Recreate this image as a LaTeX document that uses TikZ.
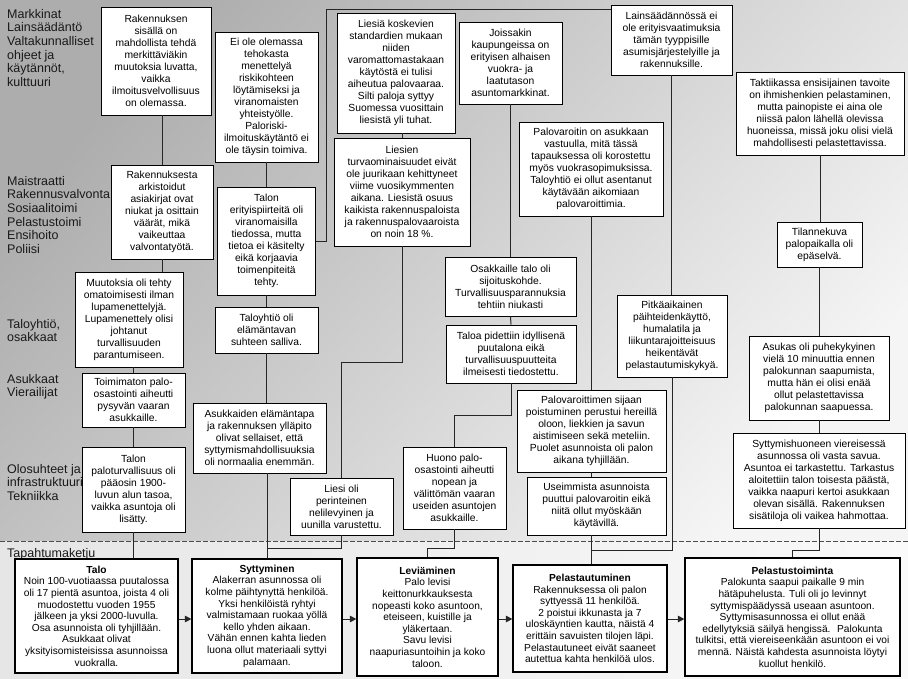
\documentclass[tikz,border=0pt]{standalone}
\usepackage{fontspec}
\setmainfont{Liberation Sans}
\usetikzlibrary{arrows.meta}
\begin{document}
\begin{tikzpicture}[x=1pt,y=-1pt,
  box/.style={draw=black, line width=0.9pt, fill=white, align=center, inner sep=2pt,
    font=\fontsize{10.3}{12}\selectfont},
  ebox/.style={box, line width=1.2pt, font=\fontsize{10.2}{11.6}\selectfont},
  conn/.style={draw=black!85, line width=1pt},
  arr/.style={conn, -{Triangle[length=6.5pt,width=6.5pt]}},
  lab/.style={anchor=north west, align=left, inner sep=0pt, text=black!90,
    font=\fontsize{12.5}{13.6}\selectfont},
  sep/.style={draw=black!70, line width=0.9pt, dash pattern=on 4.5pt off 2.5pt}
]
\useasboundingbox (0,0) rectangle (908,678);
% background
\shade[top color=black!32, bottom color=black!4, shading angle=50] (0,0) rectangle (908,541);
\shade[left color=black!10, right color=black!2] (0,541) rectangle (908,678);
\coordinate (dl) at (0,541);
\coordinate (dr) at (908,541);
\draw[sep] (dl) -- (dr);

% row labels
\node[lab] (L1) at (7,9) {Markkinat\\Lainsäädäntö\\Valtakunnalliset\\ohjeet ja\\käytännöt,\\kulttuuri};
\node[lab] (L2) at (7,176) {Maistraatti\\Rakennusvalvonta\\Sosiaalitoimi\\Pelastustoimi\\Ensihoito\\Poliisi};
\node[lab] (L3) at (7,319) {Taloyhtiö,\\osakkaat};
\node[lab] (L4) at (7,374) {Asukkaat\\Vierailijat};
\node[lab] (L5) at (7,464) {Olosuhteet ja\\infrastruktuuri\\Tekniikka};
\node[lab] (L6) at (7,548) {Tapahtumaketju};

% helper coordinates
\coordinate (y362) at (0,362);
\coordinate (y415) at (0,415);
\coordinate (y548) at (0,548);
\coordinate (y550) at (0,550);
\coordinate (y619) at (0,619);
\coordinate (tL) at (326,9);
\coordinate (jS) at (267,548);
\coordinate (jP) at (591.5,550);

% upper boxes
\node[box, minimum width=110pt, minimum height=108pt] (A1) at (156,61)
  {Rakennuksen\\sisällä on\\mahdollista tehdä\\merkittäviäkin\\muutoksia luvatta,\\vaikka\\ilmoitusvelvollisuus\\on olemassa.};
\node[box, minimum width=102pt, minimum height=94pt] (A2) at (162,212)
  {Rakennuksesta\\arkistoidut\\asiakirjat ovat\\niukat ja osittain\\väärät, mikä\\vaikeuttaa\\valvontatyötä.};
\node[box, minimum width=108pt, minimum height=95pt] (A3) at (129,319.5)
  {Muutoksia oli tehty\\omatoimisesti ilman\\lupamenettelyjä.\\Lupamenettely olisi\\johtanut\\turvallisuuden\\parantumiseen.};
\node[box, minimum width=103pt, minimum height=54pt] (A4) at (133.5,400)
  {Toimimaton palo-\\osastointi aiheutti\\pysyvän vaaran\\asukkaille.};
\node[box, minimum width=103pt, minimum height=85pt] (A5) at (133.5,489.5)
  {Talon\\paloturvallisuus oli\\pääosin 1900-\\luvun alun tasoa,\\vaikka asuntoja oli\\lisätty.};

\node[box, minimum width=103pt, minimum height=130pt] (B1) at (266.5,97)
  {Ei ole olemassa\\tehokasta\\menettelyä\\riskikohteen\\löytämiseksi ja\\viranomaisten\\yhteistyölle.\\Paloriski-\\ilmoituskäytäntö ei\\ole täysin toimiva.};
\node[box, minimum width=98pt, minimum height=108pt] (B2) at (266.5,241)
  {Talon\\erityispiirteitä oli\\viranomaisilla\\tiedossa, mutta\\tietoa ei käsitelty\\eikä korjaavia\\toimenpiteitä\\tehty.};
\node[box, minimum width=103pt, minimum height=46pt] (B3) at (266.5,330)
  {Taloyhtiö oli\\elämäntavan\\suhteen salliva.};
\node[box, minimum width=133pt, minimum height=70pt] (B4) at (259.5,438)
  {Asukkaiden elämäntapa\\ja rakennuksen ylläpito\\olivat sellaiset, että\\syttymismahdollisuuksia\\oli normaalia enemmän.};
\node[box, minimum width=103pt, minimum height=57pt] (Liesi) at (341.5,506.5)
  {Liesi oli\\perinteinen\\nelilevyinen ja\\uunilla varustettu.};

\node[box, minimum width=118pt, minimum height=120pt] (LiesiaK) at (396,73)
  {Liesiä koskevien\\standardien mukaan\\niiden\\varomattomastakaan\\käytöstä ei tulisi\\aiheutua palovaaraa.\\Silti paloja syttyy\\Suomessa vuosittain\\liesistä yli tuhat.};
\node[box, minimum width=136pt, minimum height=108pt] (Liesien) at (402,192)
  {Liesien\\turvaominaisuudet eivät\\ole juurikaan kehittyneet\\viime vuosikymmenten\\aikana. Liesistä osuus\\kaikista rakennuspaloista\\ja rakennuspalovaaroista\\on noin 18~\%.};

\node[box, minimum width=103pt, minimum height=82pt] (Joiss) at (510.5,63)
  {Joissakin\\kaupungeissa on\\erityisen alhaisen\\vuokra- ja\\laatutason\\asuntomarkkinat.};
\node[box, minimum width=131pt, minimum height=59pt] (Osak) at (510.5,286.5)
  {Osakkaille talo oli\\sijoituskohde.\\Turvallisuusparannuksia\\tehtiin niukasti};
\node[box, minimum width=130pt, minimum height=58pt] (Taloa) at (511,354)
  {Taloa pidettiin idyllisenä\\puutalona eikä\\turvallisuuspuutteita\\ilmeisesti tiedostettu.};
\node[box, minimum width=103pt, minimum height=82pt] (Huono) at (454.5,488)
  {Huono palo-\\osastointi aiheutti\\nopean ja\\välittömän vaaran\\useiden asuntojen\\asukkaille.};

\node[box, minimum width=144pt, minimum height=94pt] (Palov) at (591,169)
  {Palovaroitin on asukkaan\\vastuulla, mitä tässä\\tapauksessa oli korostettu\\myös vuokrasopimuksissa.\\Taloyhtiö ei ollut asentanut\\käytävään aikomiaan\\palovaroittimia.};
\node[box, minimum width=149pt, minimum height=82pt] (PSij) at (591.5,431)
  {Palovaroittimen sijaan\\poistuminen perustui hereillä\\oloon, liekkien ja savun\\aistimiseen sekä meteliin.\\Puolet asunnoista oli palon\\aikana tyhjillään.};
\node[box, minimum width=139pt, minimum height=58pt] (Useim) at (596.5,506)
  {Useimmista asunnoista\\puuttui palovaroitin eikä\\niitä ollut myöskään\\käytävillä.};

\node[box, minimum width=121pt, minimum height=70pt] (Lain) at (671.5,40)
  {Lainsäädännössä ei\\ole erityisvaatimuksia\\tämän tyyppisille\\asumisjärjestelyille ja\\rakennuksille.};
\node[box, minimum width=110pt, minimum height=82pt] (Pitk) at (672,336)
  {Pitkäaikainen\\päihteidenkäyttö,\\humalatila ja\\liikuntarajoitteisuus\\heikentävät\\pelastautumiskykyä.};

\node[box, minimum width=168pt, minimum height=83pt] (Takt) at (820,113.5)
  {Taktiikassa ensisijainen tavoite\\on ihmishenkien pelastaminen,\\mutta painopiste ei aina ole\\niissä palon lähellä olevissa\\huoneissa, missä joku olisi vielä\\mahdollisesti pelastettavissa.};
\node[box, minimum width=85pt, minimum height=45pt] (Tilan) at (819.5,244.5)
  {Tilannekuva\\palopaikalla oli\\epäselvä.};
\node[box, minimum width=140pt, minimum height=84pt] (Asukas) at (819,378)
  {Asukas oli puhekykyinen\\vielä 10 minuuttia ennen\\palokunnan saapumista,\\mutta hän ei olisi enää\\ollut pelastettavissa\\palokunnan saapuessa.};
\node[box, minimum width=172pt, minimum height=95pt] (Sytth) at (819,480.5)
  {Syttymishuoneen viereisessä\\asunnossa oli vasta savua.\\Asuntoa ei tarkastettu. Tarkastus\\aloitettiin talon toisesta päästä,\\vaikka naapuri kertoi asukkaan\\olevan sisällä. Rakennuksen\\sisätiloja oli vaikea hahmottaa.};

% event chain boxes
\node[ebox, minimum width=163pt, minimum height=114pt] (Talo) at (96.5,616)
  {\textbf{Talo}\\Noin 100-vuotiaassa puutalossa\\oli 17 pientä asuntoa, joista 4 oli\\muodostettu vuoden 1955\\jälkeen ja yksi 2000-luvulla.\\Osa asunnoista oli tyhjillään.\\Asukkaat olivat\\yksityisomisteisissa asunnoissa\\vuokralla.};
\node[ebox, minimum width=150pt, minimum height=114pt] (Sytt) at (267,616)
  {\textbf{Syttyminen}\\Alakerran asunnossa oli\\kolme päihtynyttä henkilöä.\\Yksi henkilöistä ryhtyi\\valmistamaan ruokaa yöllä\\kello yhden aikaan.\\Vähän ennen kahta lieden\\luona ollut materiaali syttyi\\palamaan.};
\node[ebox, minimum width=141pt, minimum height=118pt] (Lev) at (427.5,617)
  {\textbf{Leviäminen}\\Palo levisi\\keittonurkkauksesta\\nopeasti koko asuntoon,\\eteiseen, kuistille ja\\yläkertaan.\\Savu levisi\\naapuriasuntoihin ja koko\\taloon.};
\node[ebox, minimum width=154pt, minimum height=107pt] (Pelau) at (590,618.5)
  {\textbf{Pelastautuminen}\\Rakennuksessa oli palon\\syttyessä 11 henkilöä.\\2 poistui ikkunasta ja 7\\uloskäyntien kautta, näistä 4\\erittäin savuisten tilojen läpi.\\Pelastautuneet eivät saaneet\\autettua kahta henkilöä ulos.};
\node[ebox, minimum width=215pt, minimum height=118pt] (Pelst) at (792.5,617)
  {\textbf{Pelastustoiminta}\\Palokunta saapui paikalle 9 min\\hätäpuhelusta. Tuli oli jo levinnyt\\syttymispäädyssä useaan asuntoon.\\Syttymisasunnossa ei ollut enää\\edellytyksiä säilyä hengissä.~ Palokunta\\tulkitsi, että viereiseenkään asuntoon ei voi\\mennä. Näistä kahdesta asunnoista löytyi\\kuollut henkilö.};

% connectors: column A
\draw[conn] (A2.north |- A1.south) -- (A2.north);
\draw[conn] (A2.south) -- (A2.south |- A3.north);
\draw[conn] (A4.north |- A3.south) -- (A4.north);
\draw[conn] (A4.south) -- (A5.north);
\draw[conn] (A5.south) -- (A5.south |- Talo.north);
% column B
\draw[conn] (B1.south) -- (B2.north);
\draw[conn] (B2.south) -- (B3.north);
\draw[conn] (B3.south) -- (B3.south |- B4.north);
\draw[conn] (Sytt.north |- B4.south) -- (Sytt.north);
\draw[conn] (Liesi.south) |- (jS);
\draw[conn] (B2.east) -| (tL) -- (tL -| Lain.west);
% stoves
\draw[conn] (LiesiaK.south -| Liesien.north) -- (Liesien.north);
\draw[conn] (Liesien.south) -- (Liesien.south |- y362) -| (Liesi.north);
% housing market
\draw[conn] (Joiss.south) -- (Osak.north);
\draw[conn] (Osak.south) -- (Taloa.north);
\draw[conn] (Taloa.south) -- (Taloa.south |- y415) -| (Huono.north);
\draw[conn] (Huono.south) -- (Huono.south |- y548) -| (Lev.north);
% smoke alarms
\draw[conn] (Palov.south) -- (Palov.south |- PSij.north);
\draw[conn] (PSij.south) -- (PSij.south |- Useim.north);
\draw[conn] (PSij.south |- Useim.south) -- (PSij.south |- Pelau.north);
\draw[conn] (Lain.south) -- (Lain.south |- Pitk.north);
\draw[conn] (Pitk.south) |- (jP);
% rescue
\draw[conn] (Takt.south) -- (Takt.south |- Tilan.north);
\draw[conn] (Tilan.south) -- (Tilan.south |- Asukas.north);
\draw[conn] (Asukas.south) -- (Asukas.south |- Sytth.north);
\draw[conn] (Sytth.south) -- (Sytth.south |- y550) -| (Pelst.north);

% event chain arrows
\draw[arr] (Talo.east |- y619) -- (Sytt.west |- y619);
\draw[arr] (Sytt.east |- y619) -- (Lev.west |- y619);
\draw[arr] (Lev.east |- y619) -- (Pelau.west |- y619);
\draw[arr] (Pelau.east |- y619) -- (Pelst.west |- y619);
\end{tikzpicture}
\end{document}
